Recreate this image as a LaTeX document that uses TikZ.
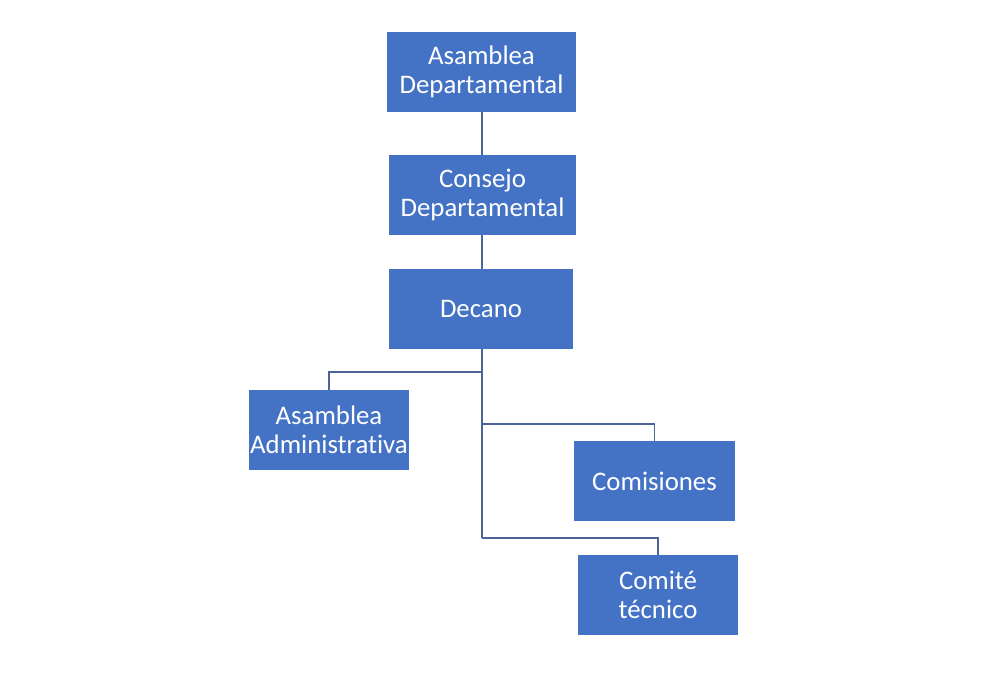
\documentclass[tikz,border=0pt]{standalone}
\usepackage{fontspec}
\setmainfont{Carlito}[Ligatures=NoCommon]
\definecolor{boxblue}{HTML}{4472C4}
\definecolor{linkblue}{HTML}{4A6596}
\begin{document}
\begin{tikzpicture}[x=1pt,y=-1pt,
  orgbox/.style={fill=boxblue,draw=none,text=white,inner sep=0pt,minimum height=80pt,
    align=center,font=\fontsize{26.8}{29}\selectfont},
  link/.style={draw=linkblue,line width=1.3pt}]
\useasboundingbox (0,0) rectangle (995,672);
\fill[white] (0,0) rectangle (995,672);
\node[orgbox,minimum width=189pt] (ad) at (481.5,72) {Asamblea\\Departamental};
\node[orgbox,minimum width=187pt] (cd) at (482.5,195) {Consejo\\Departamental};
\node[orgbox,minimum width=184pt] (dec) at (481,309) {Decano};
\node[orgbox,minimum width=160pt] (aa) at (329,430) {Asamblea\\Administrativa};
\node[orgbox,minimum width=161pt] (com) at (654.5,481) {Comisiones};
\node[orgbox,minimum width=160pt] (ct) at (658,595) {Comité\\técnico};
\coordinate (j1) at (482,372);
\coordinate (j2) at (482,424);
\coordinate (j3) at (482,538);
\draw[link] (ad.south -| j1) -- (cd.north -| j1);
\draw[link] (cd.south -| j1) -- (dec.north -| j1);
\draw[link] (dec.south -| j1) -- (j3);
\draw[link] (j1) -| (aa.north);
\draw[link] (j2) -| (com.north);
\draw[link] (j3) -| (ct.north);
\end{tikzpicture}
\end{document}
